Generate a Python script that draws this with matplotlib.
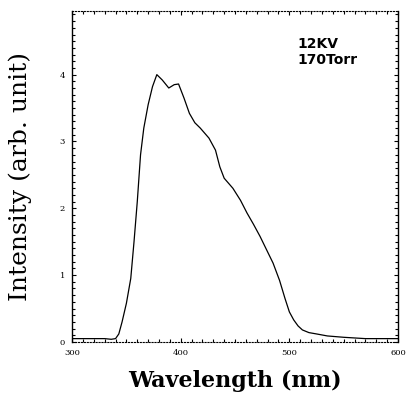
import matplotlib.pyplot as plt
from matplotlib.ticker import MultipleLocator

# emission spectrum
wavelength = [300, 310, 320, 330, 336, 340, 343, 346, 350, 354, 357, 360, 363, 366,
              370, 374, 378, 383, 389, 394, 398, 403, 408, 413, 418, 426, 432, 436,
              440, 448, 455, 461, 467, 473, 479, 485, 491, 496, 500, 504, 508,
              512, 518, 525, 535, 550, 570, 600]
intensity = [0.05, 0.05, 0.05, 0.05, 0.04, 0.05, 0.12, 0.30, 0.58, 0.95, 1.50, 2.10,
             2.80, 3.20, 3.55, 3.82, 4.00, 3.92, 3.80, 3.85, 3.86, 3.65, 3.42, 3.28,
             3.20, 3.05, 2.87, 2.62, 2.45, 2.30, 2.12, 1.93, 1.76, 1.58, 1.38, 1.18,
             0.92, 0.65, 0.45, 0.33, 0.24, 0.18, 0.14, 0.12, 0.09, 0.07, 0.05, 0.05]

xticks = [300, 400, 500, 600]
yticks = [0, 1, 2, 3, 4]

fig = plt.figure(figsize=(4.12, 4.13), dpi=100)
ax = fig.add_axes([0.175, 0.172, 0.791, 0.801])

ax.plot(wavelength, intensity, color='black', linewidth=0.9)

ax.set_xlim(300, 600)
ax.set_ylim(0, 4.95)
ax.set_xticks(xticks)
ax.set_yticks(yticks)
ax.set_xticklabels([str(v) for v in xticks], family='DejaVu Serif', fontsize=6)
ax.set_yticklabels([str(v) for v in yticks], family='DejaVu Serif', fontsize=6)
ax.xaxis.set_minor_locator(MultipleLocator(10))
ax.yaxis.set_minor_locator(MultipleLocator(0.1))
ax.tick_params(which='both', direction='in', top=True, right=True, width=0.8)
ax.tick_params(which='major', length=3, pad=5)
ax.tick_params(which='minor', length=2)

for side in ['left', 'right']:
    ax.spines[side].set_linewidth(1.0)
for side in ['top', 'bottom']:
    ax.spines[side].set_linewidth(0.8)
    ax.spines[side].set_linestyle(':')

ax.set_xlabel('Wavelength (nm)', family='DejaVu Serif', fontweight='bold',
              fontsize=16, labelpad=9)
ax.set_ylabel('Intensity (arb. unit)', family='DejaVu Serif', fontsize=18,
              labelpad=20)

ax.text(0.69, 0.921, '12KV\n170Torr', transform=ax.transAxes, fontsize=10,
        fontweight='bold', va='top', ha='left', linespacing=1.15)

fig.savefig('out.png', dpi=100)
